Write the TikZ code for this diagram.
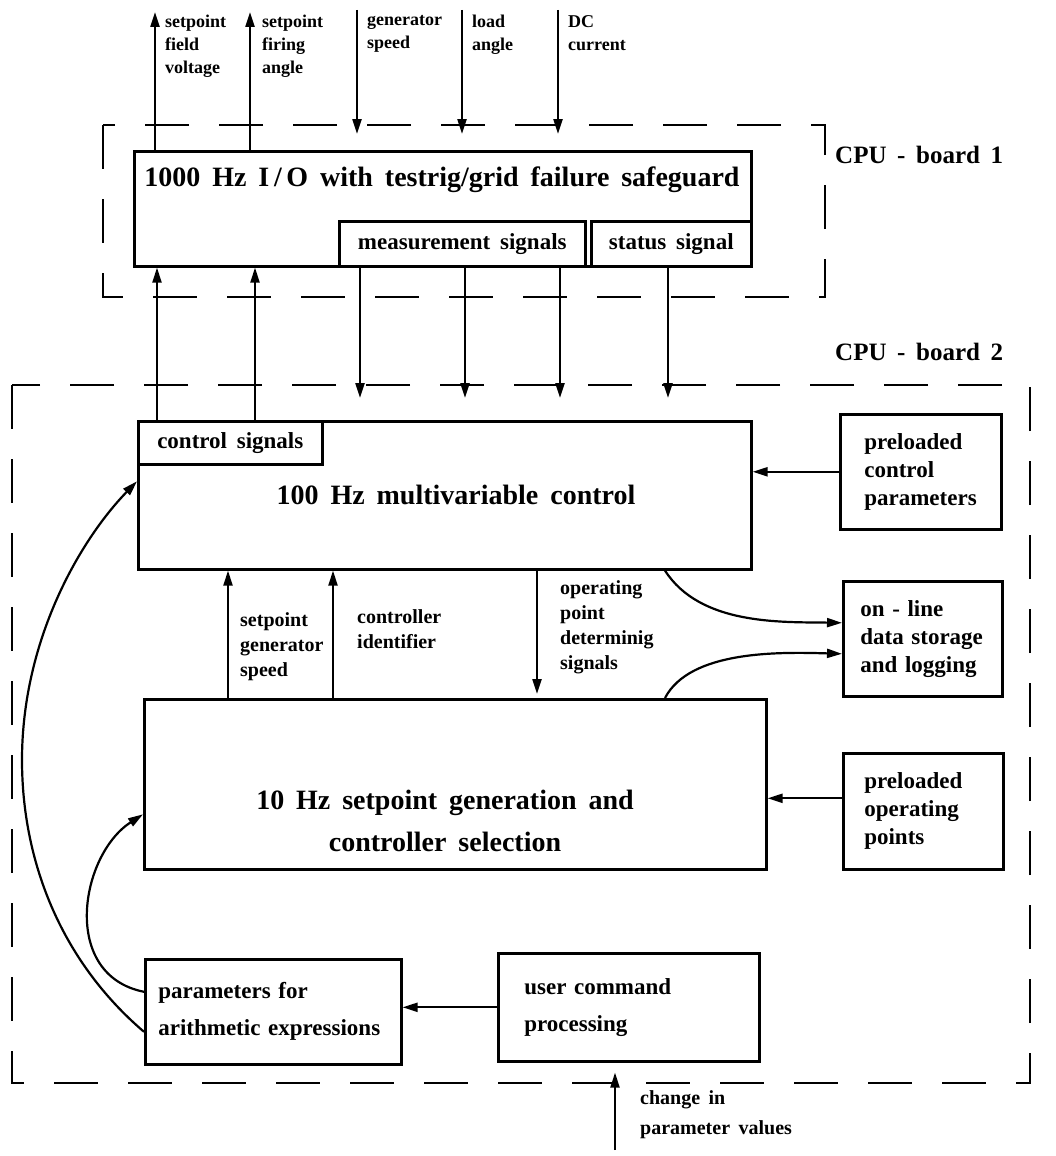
\documentclass[tikz,border=0pt]{standalone}
\usepackage{fontspec}
\setmainfont{Liberation Serif}[WordSpace=1.7]
\usetikzlibrary{arrows.meta,calc}
\hyphenpenalty=10000
\exhyphenpenalty=10000

\begin{document}
\begin{tikzpicture}[x=1pt,y=-1pt,
  box/.style={draw,line width=2.6pt,inner sep=0pt,anchor=north west},
  bigt/.style={font=\fontsize{28}{42}\selectfont\bfseries,align=center},
  medt/.style={font=\fontsize{23}{28}\selectfont\bfseries},
  lowt/.style={font=\fontsize{23}{37}\selectfont\bfseries},
  smallt/.style={font=\fontsize{18}{23}\selectfont\bfseries,align=left,inner sep=0pt,anchor=north west},
  midt/.style={font=\fontsize{20}{25}\selectfont\bfseries,align=left,inner sep=0pt,anchor=north west},
  cput/.style={font=\fontsize{25}{30}\selectfont\bfseries,anchor=west,inner sep=0pt},
  side/.style={box,medt,align=left},
  arr/.style={line width=2.2pt,-{Triangle[length=15pt,width=9pt]}},
  bnd/.style={line width=2.4pt,dash pattern=on 44pt off 30pt},
]
\useasboundingbox (0,0) rectangle (1055,1156);

% CPU board boundaries
\draw[bnd] (103,125) rectangle (825,297);
\draw[bnd] (12,385) rectangle (1030,1083);
\node[cput] (cpu1) at (835,155) {CPU - board 1};
\node[cput] (cpu2) at (835,352) {CPU - board 2};

% 1000 Hz I/O task
\node[box,minimum width=617pt,minimum height=115pt] (io) at (133,150) {};
\node[box,medt,minimum width=246pt,minimum height=45pt] (meas) at (338,220) {measurement signals};
\node[box,medt,minimum width=160pt,minimum height=45pt] (stat) at (590,220) {status signal};
\node[bigt] (iot) at (442,180) {1000 Hz I\,/\,O with testrig/grid failure safeguard};

% 100 Hz control task
\node[box,minimum width=613pt,minimum height=148pt] (mvc) at (137,420) {};
\node[box,medt,minimum width=184pt,minimum height=43pt] (ctrl) at (137,420) {control signals};
\node[bigt] (mvct) at (456,495) {100 Hz multivariable control};

% 10 Hz setpoint task
\node[box,minimum width=622pt,minimum height=170pt] (sgc) at (143,698) {};
\node[bigt] (sgct) at (445,821) {10 Hz setpoint generation and\\controller selection};

% side boxes
\node[side,inner xsep=24pt,text width=113pt,minimum height=115pt] (pcp) at (839,413) {preloaded\\control\\parameters};
\node[side,inner xsep=17pt,text width=125pt,minimum height=115pt] (ols) at (842,580) {on - line\\data storage\\and logging};
\node[side,inner xsep=21pt,text width=118pt,minimum height=116pt] (pop) at (842,752) {preloaded\\operating\\points};
\node[side,lowt,inner xsep=13pt,text width=230pt,minimum height=105pt] (pae) at (144,958) {parameters for\\arithmetic expressions};
\node[side,lowt,inner xsep=26pt,text width=209pt,minimum height=108pt] (ucp) at (497,952) {user command\\processing};

% process signals at the top
\coordinate (t1) at (155,12);
\coordinate (t2) at (250,12);
\coordinate (t3) at (357,10);
\coordinate (t4) at (462,10);
\coordinate (t5) at (558,10);
\draw[arr] (155,0 |- io.north) -- (t1);
\draw[arr] (250,0 |- io.north) -- (t2);
\draw[arr,shorten >=16pt] (t3) -- (357,0 |- io.north);
\draw[arr,shorten >=16pt] (t4) -- (462,0 |- io.north);
\draw[arr,shorten >=16pt] (t5) -- (558,0 |- io.north);
\node[smallt] (l1) at (165,15) {setpoint\\field\\voltage};
\node[smallt] (l2) at (262,15) {setpoint\\firing\\angle};
\node[smallt] (l3) at (367,15) {generator\\speed};
\node[smallt] (l4) at (472,15) {load\\angle};
\node[smallt] (l5) at (568,15) {DC\\current};

% between the boards
\draw[arr] (157,0 |- ctrl.north) -- (157,0 |- io.south);
\draw[arr] (255,0 |- ctrl.north) -- (255,0 |- io.south);
\draw[arr,shorten >=22pt] (360,0 |- meas.south) -- (360,0 |- mvc.north);
\draw[arr,shorten >=22pt] (465,0 |- meas.south) -- (465,0 |- mvc.north);
\draw[arr,shorten >=22pt] (560,0 |- meas.south) -- (560,0 |- mvc.north);
\draw[arr,shorten >=22pt] (668,0 |- stat.south) -- (668,0 |- mvc.north);

% inside board 2
\draw[arr] (pcp.west) -- (pcp.west -| mvc.east);
\draw[arr] ([yshift=13pt]pop.west) -- ([yshift=13pt]pop.west -| sgc.east);
\draw[arr] (ucp.west) -- (ucp.west -| pae.east);
\draw[arr] (228,0 |- sgc.north) -- (228,0 |- mvc.south);
\draw[arr] (333,0 |- sgc.north) -- (333,0 |- mvc.south);
\draw[arr,shorten >=4pt] (537,0 |- mvc.south) -- (537,0 |- sgc.north);
\node[midt] (m1) at (240,612) {setpoint\\generator\\speed};
\node[midt] (m2) at (357,609) {controller\\identifier};
\node[midt] (m3) at (560,580) {operating\\point\\determinig\\signals};

\draw[arr] (665,0 |- mvc.south) .. controls (700,625) and (780,622) .. ([yshift=16pt]ols.west);
\draw[arr] (665,0 |- sgc.north) .. controls (690,650) and (780,652) .. ([yshift=-15pt]ols.west);

\draw[arr] ([yshift=20pt]pae.west) .. controls (60,975) and (80,855) .. ([yshift=-30pt]sgc.west);
\draw[arr] ([yshift=-20pt]pae.west) .. controls (60,960) and (22,860) .. (22,760)
  .. controls (22,640) and (80,540) .. ([yshift=14pt]mvc.west);

% operator input
\coordinate (cin) at (615,1150);
\draw[arr,shorten >=10pt] (cin) -- (615,0 |- ucp.south);
\node[midt,font=\fontsize{20}{30}\selectfont\bfseries] (lc) at (640,1090) {change in\\parameter values};
\end{tikzpicture}
\end{document}
